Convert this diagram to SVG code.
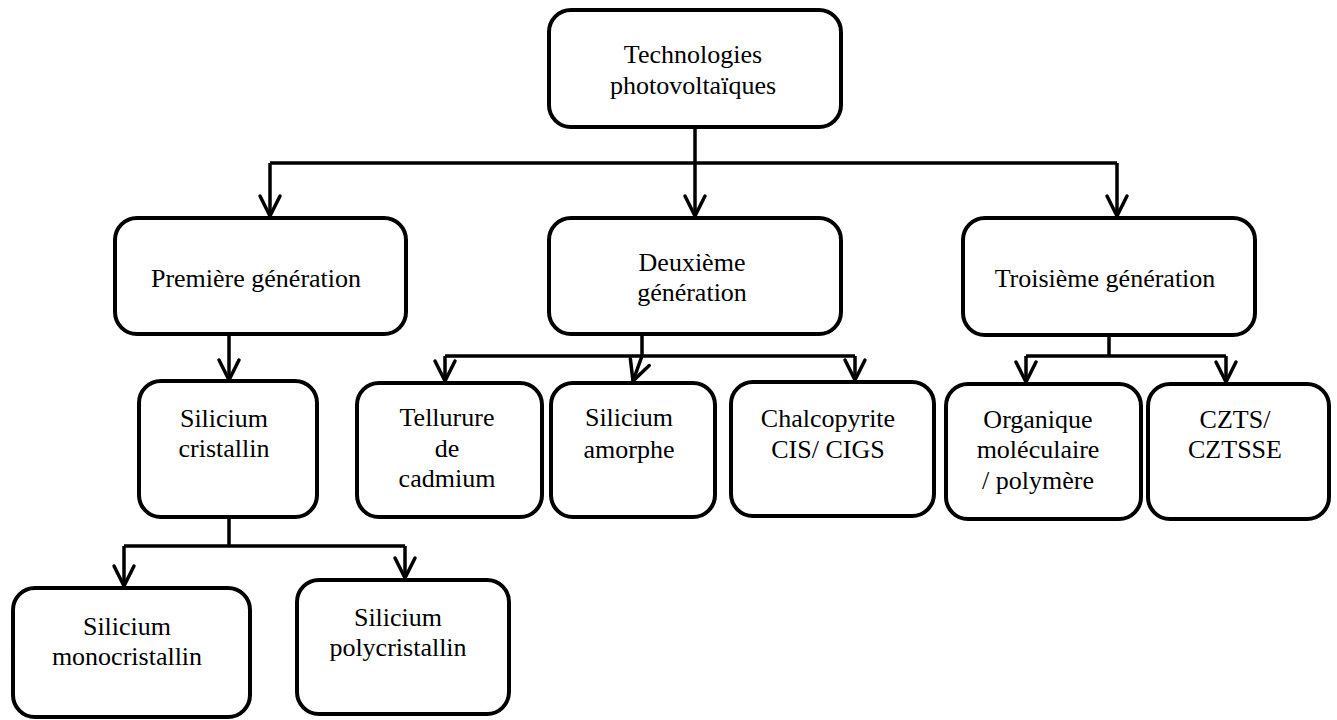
<svg xmlns="http://www.w3.org/2000/svg" width="1337" height="720" viewBox="0 0 1337 720">
<style>
.box{fill:#fff;stroke:#000;stroke-width:4}
.lbl{font-family:"Liberation Serif","Times New Roman",serif;font-size:26px;fill:#000;text-anchor:middle}
.con{fill:none;stroke:#000;stroke-width:3.5}
</style>
<defs>
<marker id="arr" markerUnits="userSpaceOnUse" viewBox="-24 -14 28 28" refX="0" refY="0" markerWidth="28" markerHeight="28" orient="auto">
<path d="M-20,-10 L0,0 L-20,10" fill="none" stroke="#000" stroke-width="3.5" stroke-linejoin="round" stroke-linecap="round"/>
</marker>
</defs>
<rect width="1337" height="720" fill="#fff"/>
<g id="connectors">
<path class="con" d="M695,127 V163 M270,163 H1117"/>
<path class="con" d="M270,163 V216" marker-end="url(#arr)"/>
<path class="con" d="M695,163 V216" marker-end="url(#arr)"/>
<path class="con" d="M1117,163 V216" marker-end="url(#arr)"/>
<path class="con" d="M229,334 V380" marker-end="url(#arr)"/>
<path class="con" d="M642,334 V356 M445,356 H855"/>
<path class="con" d="M445,356 V381" marker-end="url(#arr)"/>
<path class="con" d="M642,356 L633,381" marker-end="url(#arr)"/>
<path class="con" d="M855,356 V380" marker-end="url(#arr)"/>
<path class="con" d="M1109,335 V356 M1026,356 H1226"/>
<path class="con" d="M1026,356 V382" marker-end="url(#arr)"/>
<path class="con" d="M1226,356 V382" marker-end="url(#arr)"/>
<path class="con" d="M229,517 V546 M124,546 H405"/>
<path class="con" d="M124,546 V586" marker-end="url(#arr)"/>
<path class="con" d="M405,546 V578" marker-end="url(#arr)"/>
</g>
<g id="n-root">
<rect class="box" x="549" y="10" width="292" height="117" rx="22"/>
<text class="lbl" x="693" y="63">Technologies</text>
<text class="lbl" x="693" y="94">photovoltaïques</text>
</g>
<g id="n-premiere">
<rect class="box" x="115" y="218" width="291" height="116" rx="22"/>
<text class="lbl" x="256" y="287">Première génération</text>
</g>
<g id="n-deuxieme">
<rect class="box" x="549" y="218" width="292" height="116" rx="22"/>
<text class="lbl" x="692" y="271">Deuxième</text>
<text class="lbl" x="692" y="301">génération</text>
</g>
<g id="n-troisieme">
<rect class="box" x="963" y="218" width="292" height="117" rx="22"/>
<text class="lbl" x="1105" y="287">Troisième génération</text>
</g>
<g id="n-cristallin">
<rect class="box" x="139" y="381" width="178" height="136" rx="22"/>
<text class="lbl" x="224" y="427">Silicium</text>
<text class="lbl" x="224" y="457">cristallin</text>
</g>
<g id="n-tellurure">
<rect class="box" x="357" y="383" width="185" height="134" rx="22"/>
<text class="lbl" x="447" y="426">Tellurure</text>
<text class="lbl" x="447" y="457">de</text>
<text class="lbl" x="447" y="487">cadmium</text>
</g>
<g id="n-amorphe">
<rect class="box" x="551" y="383" width="164" height="134" rx="22"/>
<text class="lbl" x="629" y="426">Silicium</text>
<text class="lbl" x="629" y="458">amorphe</text>
</g>
<g id="n-chalco">
<rect class="box" x="731" y="382" width="203" height="134" rx="22"/>
<text class="lbl" x="828" y="427">Chalcopyrite</text>
<text class="lbl" x="828" y="458">CIS/ CIGS</text>
</g>
<g id="n-organique">
<rect class="box" x="946" y="384" width="195" height="135" rx="22"/>
<text class="lbl" x="1038" y="428">Organique</text>
<text class="lbl" x="1038" y="458">moléculaire</text>
<text class="lbl" x="1038" y="489">/ polymère</text>
</g>
<g id="n-czts">
<rect class="box" x="1148" y="384" width="181" height="135" rx="22"/>
<text class="lbl" x="1235" y="428">CZTS/</text>
<text class="lbl" x="1235" y="458">CZTSSE</text>
</g>
<g id="n-mono">
<rect class="box" x="13" y="588" width="237" height="129" rx="22"/>
<text class="lbl" x="127" y="635">Silicium</text>
<text class="lbl" x="127" y="665">monocristallin</text>
</g>
<g id="n-poly">
<rect class="box" x="297" y="580" width="212" height="134" rx="22"/>
<text class="lbl" x="398" y="626">Silicium</text>
<text class="lbl" x="398" y="656">polycristallin</text>
</g>
</svg>
